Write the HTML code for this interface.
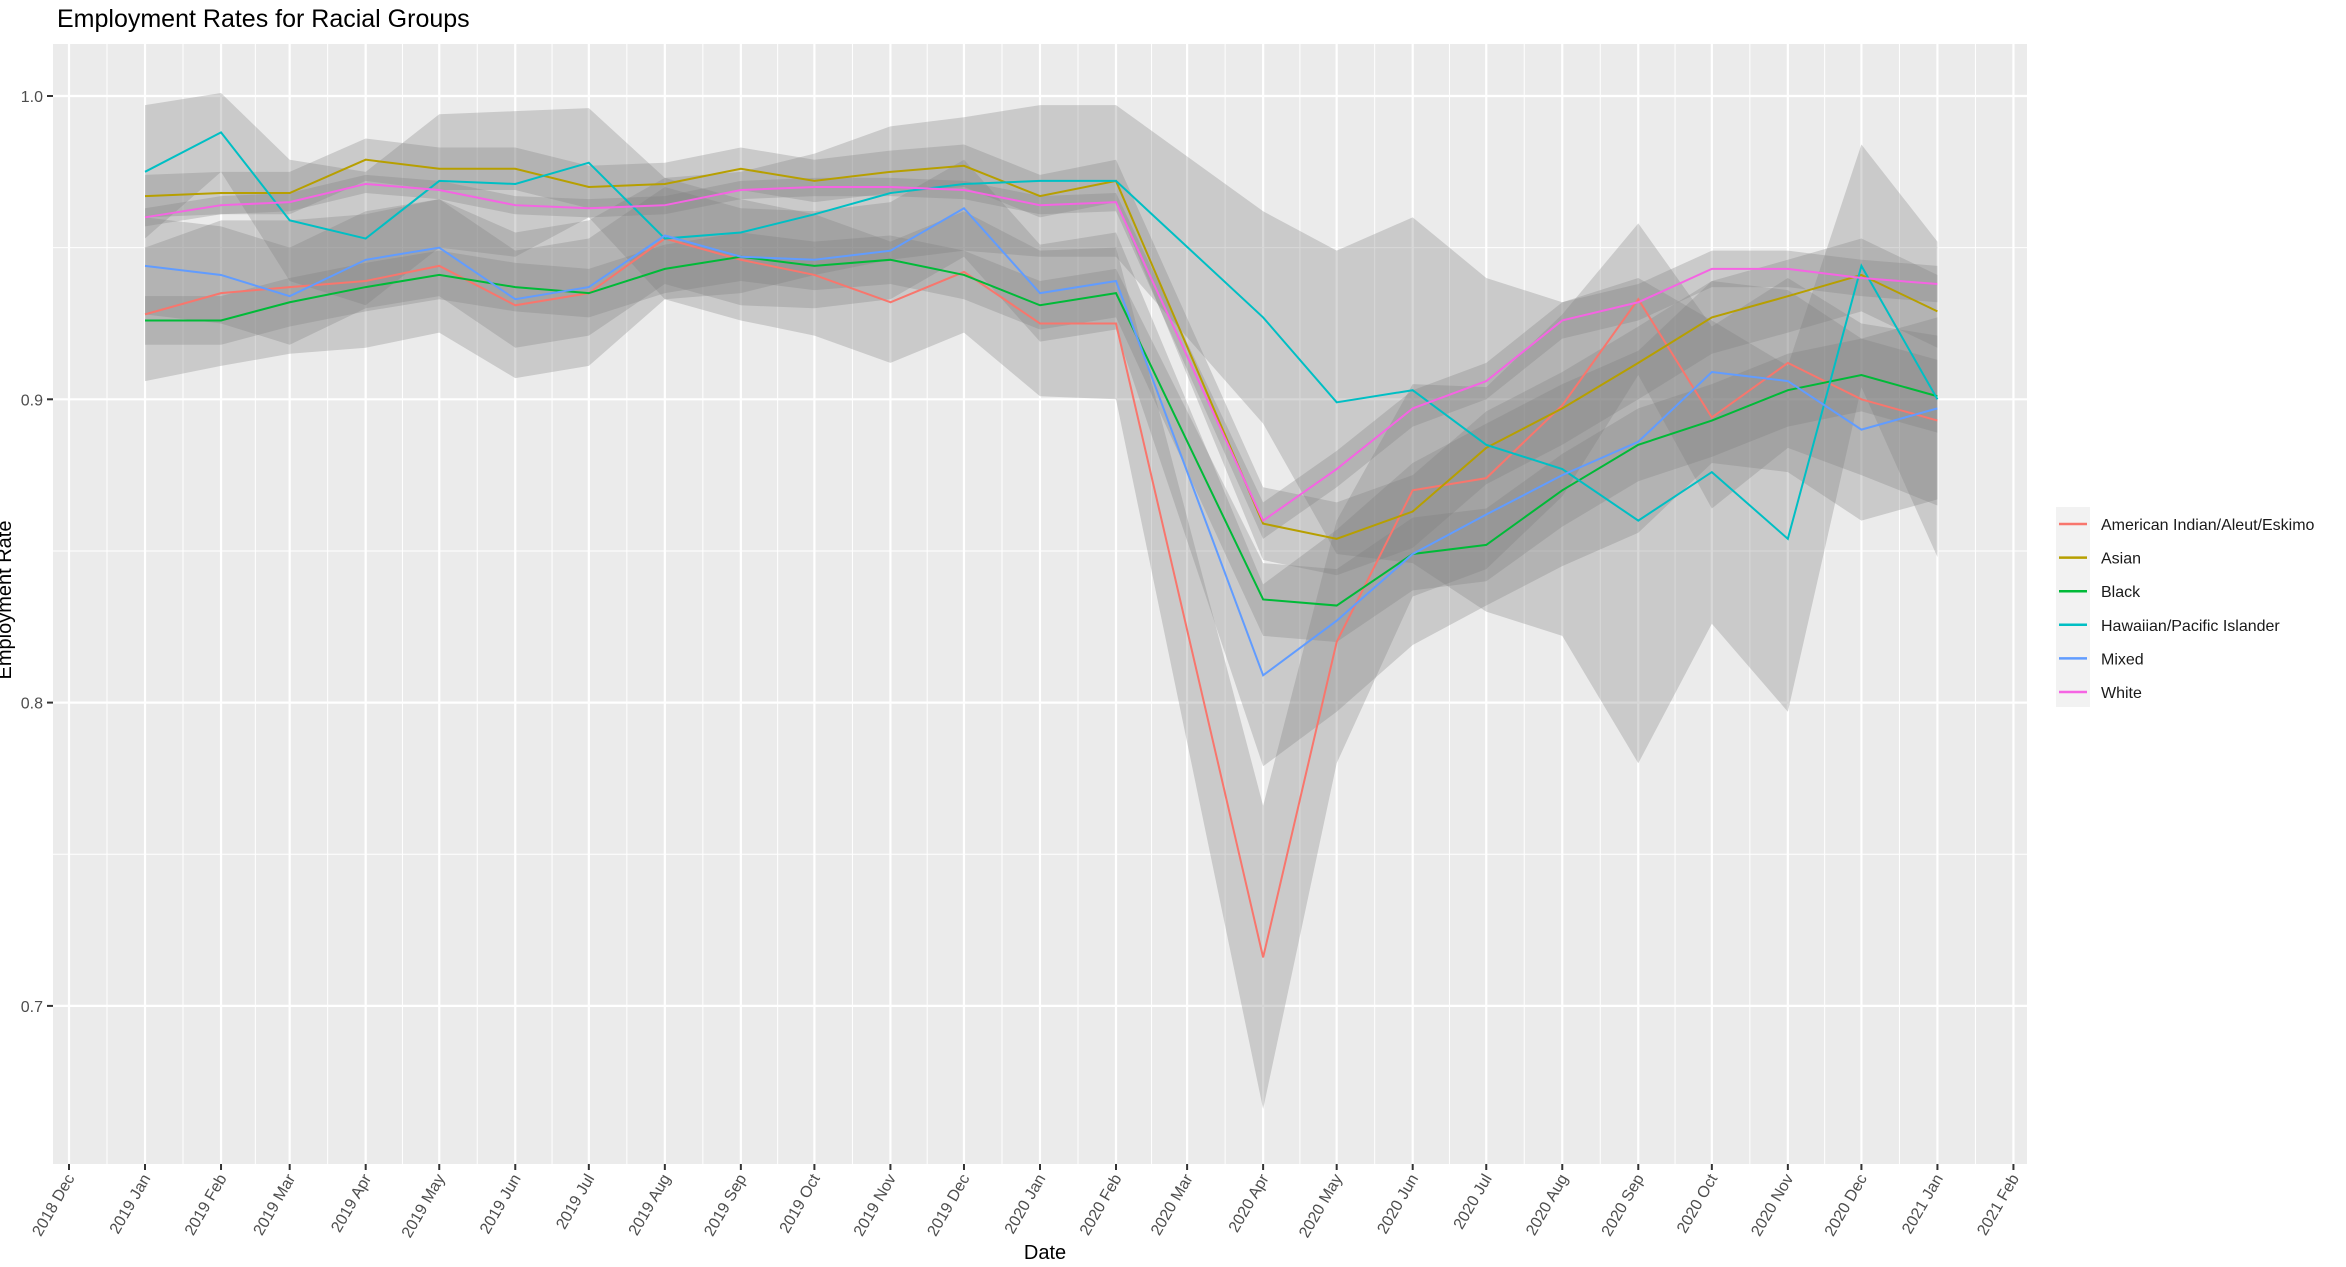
<!DOCTYPE html>
<html><head><meta charset="utf-8"><style>
body{margin:0;background:#fff;}
svg text{font-family:"Liberation Sans",Arial,sans-serif;}
</style></head><body>
<svg id="chart" width="2346" height="1262" xmlns="http://www.w3.org/2000/svg">
<text x="57" y="27" font-size="25" fill="#000">Employment Rates for Racial Groups</text>
<rect x="53" y="44" width="1974" height="1120" fill="#EBEBEB"/>
<g id="grid"></g><g id="ribbons"></g><g id="lines"></g><g id="axes"></g>
<text x="1045" y="1259" font-size="20" text-anchor="middle" fill="#000">Date</text>
<text transform="translate(11,600) rotate(-90)" font-size="20" text-anchor="middle" fill="#000">Employment Rate</text>
<g id="legend"></g>
</svg>
<script>
const seriesNames=["American Indian/Aleut/Eskimo","Asian","Black","Hawaiian/Pacific Islander","Mixed","White"];
const seriesColors=["#F8766D","#B79F00","#00BA38","#00BFC4","#619CFF","#F564E3"];
const months=["2019-01","2019-02","2019-03","2019-04","2019-05","2019-06","2019-07","2019-08","2019-09","2019-10","2019-11","2019-12","2020-01","2020-02","2020-04","2020-05","2020-06","2020-07","2020-08","2020-09","2020-10","2020-11","2020-12","2021-01"];
const aian=[0.928,0.935,0.937,0.939,0.944,0.931,0.935,0.953,0.946,0.941,0.932,0.942,0.925,0.925,0.716,0.82,0.870,0.874,0.898,0.933,0.894,0.912,0.900,0.893];
const asian=[0.967,0.968,0.968,0.979,0.976,0.976,0.970,0.971,0.976,0.972,0.975,0.977,0.967,0.972,0.859,0.854,0.863,0.884,0.897,0.912,0.927,0.934,0.941,0.929];
const black=[0.926,0.926,0.932,0.937,0.941,0.937,0.935,0.943,0.947,0.944,0.946,0.941,0.931,0.935,0.834,0.832,0.849,0.852,0.870,0.885,0.893,0.903,0.908,0.901];
const hpi=[0.975,0.988,0.959,0.953,0.972,0.971,0.978,0.953,0.955,0.961,0.968,0.971,0.972,0.972,0.927,0.899,0.903,0.885,0.877,0.860,0.876,0.854,0.944,0.900];
const mixed=[0.944,0.941,0.934,0.946,0.950,0.933,0.937,0.954,0.947,0.946,0.949,0.963,0.935,0.939,0.809,0.827,0.849,0.862,0.875,0.886,0.909,0.906,0.890,0.897];
const white=[0.960,0.964,0.965,0.971,0.969,0.964,0.963,0.964,0.969,0.970,0.970,0.969,0.964,0.965,0.860,0.877,0.897,0.906,0.926,0.932,0.943,0.943,0.940,0.938];
const aianMargin=[0.022,0.024,0.022,0.022,0.022,0.024,0.024,0.02,0.02,0.02,0.02,0.02,0.024,0.025,0.05,0.04,0.035,0.03,0.03,0.025,0.03,0.028,0.025,0.028];
const hpiMargin=[0.022,0.013,0.02,0.022,0.022,0.024,0.018,0.02,0.02,0.02,0.022,0.022,0.025,0.025,0.035,0.05,0.057,0.055,0.055,0.08,0.05,0.057,0.04,0.052];
const asianMargin=[0.007,0.007,0.007,0.007,0.007,0.007,0.007,0.007,0.007,0.007,0.007,0.007,0.007,0.007,0.012,0.012,0.012,0.012,0.012,0.012,0.012,0.012,0.012,0.012];
const blackMargin=[0.008,0.008,0.008,0.008,0.008,0.008,0.008,0.008,0.008,0.008,0.008,0.008,0.008,0.008,0.012,0.012,0.012,0.012,0.012,0.012,0.012,0.012,0.012,0.012];
const mixedMargin=[0.016,0.016,0.016,0.016,0.016,0.016,0.016,0.016,0.016,0.016,0.016,0.016,0.016,0.016,0.03,0.03,0.03,0.03,0.03,0.03,0.03,0.03,0.03,0.03];
const whiteMargin=[0.003,0.003,0.003,0.003,0.003,0.003,0.003,0.003,0.003,0.003,0.003,0.003,0.003,0.003,0.006,0.006,0.006,0.006,0.006,0.006,0.006,0.006,0.006,0.006];
const yTicks=[0.7,0.8,0.9,1.0];
const xTickLabels=["2018 Dec","2019 Jan","2019 Feb","2019 Mar","2019 Apr","2019 May","2019 Jun","2019 Jul","2019 Aug","2019 Sep","2019 Oct","2019 Nov","2019 Dec","2020 Jan","2020 Feb","2020 Mar","2020 Apr","2020 May","2020 Jun","2020 Jul","2020 Aug","2020 Sep","2020 Oct","2020 Nov","2020 Dec","2021 Jan","2021 Feb"];
const xTickDates=["2018-12","2019-01","2019-02","2019-03","2019-04","2019-05","2019-06","2019-07","2019-08","2019-09","2019-10","2019-11","2019-12","2020-01","2020-02","2020-03","2020-04","2020-05","2020-06","2020-07","2020-08","2020-09","2020-10","2020-11","2020-12","2021-01","2021-02"];

const allSeries=[aian,asian,black,hpi,mixed,white];
const allMargins=[aianMargin,asianMargin,blackMargin,hpiMargin,mixedMargin,whiteMargin];
const NS="http://www.w3.org/2000/svg";
const d0=Date.UTC(2018,11,1);
function days(s){const [y,m]=s.split("-").map(Number);return (Date.UTC(y,m-1,1)-d0)/86400000;}
function xs(s){return 69+days(s)*2.452;}
function ys(v){return 96+(1.0-v)*3033;}
function mk(tag,attrs,parent){const e=document.createElementNS(NS,tag);for(const k in attrs)e.setAttribute(k,attrs[k]);parent.appendChild(e);return e;}
const grid=document.getElementById('grid'),axes=document.getElementById('axes');
const PR=2027;
for(let i=0;i<yTicks.length;i++){const v=yTicks[i]+0.05;if(ys(v)>44){const l=mk('line',{x1:53,x2:PR,y1:ys(v),y2:ys(v),stroke:'#fff','stroke-width':1},grid);

}}
for(let i=0;i<xTickDates.length-1;i++){const m=(xs(xTickDates[i])+xs(xTickDates[i+1]))/2;const l=mk('line',{x1:m,x2:m,y1:44,y2:1164,stroke:'#fff','stroke-width':1},grid);

}
yTicks.forEach(v=>{const y=ys(v);const l=mk('line',{x1:53,x2:PR,y1:y,y2:y,stroke:'#fff','stroke-width':2.2},grid);


const t=mk('line',{x1:47,x2:53,y1:y,y2:y,stroke:'#333','stroke-width':2},axes);


const tx=mk('text',{x:43,y:y+6,'font-size':16,'text-anchor':'end',fill:'#4d4d4d'},axes);tx.textContent=v.toFixed(1);

});
xTickDates.forEach((d,i)=>{const x=xs(d);const l=mk('line',{x1:x,x2:x,y1:44,y2:1164,stroke:'#fff','stroke-width':2.2},grid);


const t=mk('line',{x1:x,x2:x,y1:1164,y2:1170,stroke:'#333','stroke-width':2},axes);


const tx=mk('text',{transform:`translate(${x+6},1178) rotate(-60)`,'font-size':16,'text-anchor':'end',fill:'#4d4d4d'},axes);tx.textContent=xTickLabels[i];

});
const rib=document.getElementById('ribbons'),lines=document.getElementById('lines');
allSeries.forEach((s,k)=>{const mg=allMargins[k];
let up=s.map((v,i)=>`${xs(months[i])},${ys(v+mg[i])}`);let lo=s.map((v,i)=>`${xs(months[i])},${ys(v-mg[i])}`).reverse();
const p=mk('polygon',{points:up.concat(lo).join(' '),fill:'#7f7f7f','fill-opacity':0.3},rib);

});
allSeries.forEach((s,k)=>{const pl=mk('polyline',{points:s.map((v,i)=>`${xs(months[i])},${ys(v)}`).join(' '),fill:'none',stroke:seriesColors[k],'stroke-width':2},lines);

});
const lg=document.getElementById('legend');
const bg=mk('rect',{x:2056,y:507,width:34,height:200,fill:'#F2F2F2'},lg);


seriesNames.forEach((n,k)=>{const y=524+k*33.6;
const l=mk('line',{x1:2059,x2:2087,y1:y,y2:y,stroke:seriesColors[k],'stroke-width':2.5},lg);


const t=mk('text',{x:2101,y:y+6,'font-size':16,fill:'#1a1a1a'},lg);t.textContent=n;

});
</script>
</body></html>
